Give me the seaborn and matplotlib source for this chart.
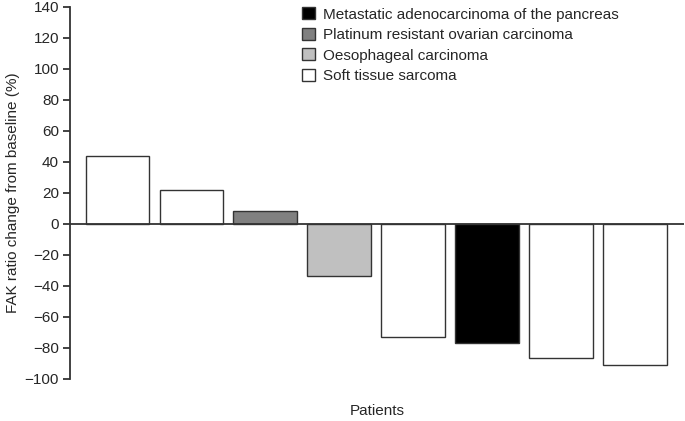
import matplotlib
matplotlib.use("Agg")
import matplotlib.pyplot as plt
from matplotlib.patches import Patch
import seaborn as sns
import pandas as pd

patients = ["P1", "P2", "P3", "P4", "P5", "P6", "P7", "P8"]
fak_change = [44, 22, 8, -34, -73, -77, -87, -91.5]
tumour_type = [
    "Soft tissue sarcoma",
    "Soft tissue sarcoma",
    "Platinum resistant ovarian carcinoma",
    "Oesophageal carcinoma",
    "Soft tissue sarcoma",
    "Metastatic adenocarcinoma of the pancreas",
    "Soft tissue sarcoma",
    "Soft tissue sarcoma",
]
legend_order = [
    "Metastatic adenocarcinoma of the pancreas",
    "Platinum resistant ovarian carcinoma",
    "Oesophageal carcinoma",
    "Soft tissue sarcoma",
]
colors = ["#000000", "#808080", "#c0c0c0", "#ffffff"]
yticks = list(range(-100, 141, 20))

df = pd.DataFrame({"patient": patients, "value": fak_change, "type": tumour_type})
palette = dict(zip(legend_order, colors))

sns.set_style("white")
plt.rcParams["font.family"] = ["Liberation Sans", "DejaVu Sans"]

fig = plt.figure(figsize=(6.85, 4.21), dpi=100)
ax = fig.add_axes([70 / 685, 42.5 / 421, 614 / 685, 371.5 / 421])

sns.barplot(data=df, x="patient", y="value", hue="type", hue_order=legend_order,
            palette=palette, dodge=False, width=0.86, edgecolor="#333333",
            linewidth=1.0, legend=False, ax=ax, order=patients)

ax.axhline(0, color="#333333", linewidth=1.3, zorder=5)
ax.set_xlim(-0.64, 7.66)
ax.set_ylim(-100, 140)
ax.set_yticks(yticks)
ax.set_yticklabels([str(t).replace("-", "\u2212") for t in yticks], fontsize=11)
ax.set_xticks([])
ax.set_xlabel("")
fig.text(377 / 685, 1 - 411 / 421, "Patients", fontsize=11, ha="center", va="center")
ax.set_ylabel("FAK ratio change from baseline (%)", fontsize=11, labelpad=3)
for s in ["top", "right", "bottom"]:
    ax.spines[s].set_visible(False)
ax.spines["left"].set_color("#333333")
ax.spines["left"].set_linewidth(1.3)
ax.tick_params(axis="y", left=True, length=5, width=1.3, color="#333333", pad=3)

handles = [Patch(facecolor=c, edgecolor="#333333", linewidth=1.0) for c in colors]
ax.legend(handles, legend_order, loc="upper left", bbox_to_anchor=(0.363, 1.024),
          frameon=False, fontsize=11, handlelength=0.85, handleheight=0.85,
          handletextpad=0.55, labelspacing=0.4, borderaxespad=0.2)

fig.savefig("out.png", dpi=100)
